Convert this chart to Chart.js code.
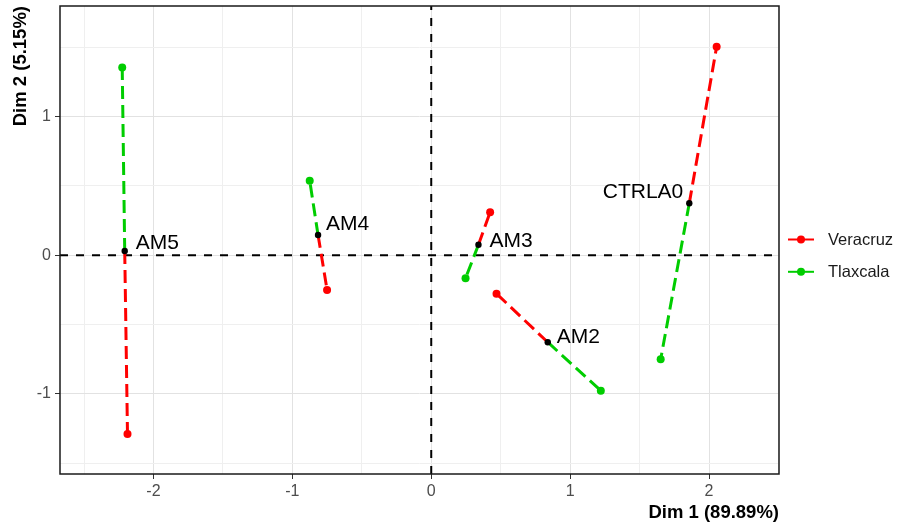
<!DOCTYPE html>
<html>
<head>
<meta charset="utf-8">
<script src="https://cdn.jsdelivr.net/npm/chart.js@4/dist/chart.umd.min.js"></script>
<style>
  html, body { margin: 0; padding: 0; background: #fff; }
  #wrap { width: 900px; height: 527px; }
</style>
</head>
<body>
<div id="wrap"><canvas id="myChart" width="900" height="527"></canvas></div>

<script>
// individuals (mean point) and partial points per group
var individuals = ['AM5', 'AM4', 'AM3', 'AM2', 'CTRLA0'];
var centerX = [-2.207, -0.815, 0.340, 0.839, 1.858];
var centerY = [0.031, 0.146, 0.076, -0.627, 0.375];
var veracruzX = [-2.187, -0.750, 0.424, 0.470, 2.055];
var veracruzY = [-1.288, -0.250, 0.310, -0.277, 1.504];
var tlaxcalaX = [-2.225, -0.875, 0.247, 1.221, 1.652];
var tlaxcalaY = [1.353, 0.538, -0.166, -0.976, -0.750];
var groups = ['Veracruz', 'Tlaxcala'];
var xTicks = [-2.5, -2, -1.5, -1, -0.5, 0, 0.5, 1, 1.5, 2, 2.5];
var yTicks = [-1.5, -1, -0.5, 0, 0.5, 1, 1.5];
var xTitle = 'Dim 1 (89.89%)';
var yTitle = 'Dim 2 (5.15%)';

var RED = '#FF0000';
var GREEN = '#00CD00';
var FONT = "'Liberation Sans', Arial, sans-serif";

// label placement (pixel offsets from the mean point), like ggrepel left them
var labelDx = [11, 8, 11, 9, -6];
var labelDy = [-8, -11, -4, -5, -11];
var labelAlign = ['left', 'left', 'left', 'left', 'right'];

var datasets = [];
datasets.push({
    label: 'mean',
    data: individuals.map(function (n, i) { return {x: centerX[i], y: centerY[i]}; }),
    backgroundColor: '#000',
    borderColor: '#000',
    pointRadius: 3.2,
    pointBorderWidth: 0,
    showLine: false,
    order: 0
});
for (var i = 0; i < individuals.length; i++) {
    datasets.push({
        label: groups[0],
        data: [{x: centerX[i], y: centerY[i]}, {x: veracruzX[i], y: veracruzY[i]}],
        borderColor: RED,
        backgroundColor: RED,
        borderWidth: 3,
        borderDash: [13, 6],
        pointRadius: [0, 4],
        pointBorderWidth: 0,
        showLine: true,
        order: 2
    });
    datasets.push({
        label: groups[1],
        data: [{x: centerX[i], y: centerY[i]}, {x: tlaxcalaX[i], y: tlaxcalaY[i]}],
        borderColor: GREEN,
        backgroundColor: GREEN,
        borderWidth: 3,
        borderDash: [13, 6],
        pointRadius: [0, 4],
        pointBorderWidth: 0,
        showLine: true,
        order: 1
    });
}

function isMajor(v) { return Math.abs(v - Math.round(v)) < 1e-9; }

var decor = {
    id: 'decor',
    beforeDatasetsDraw: function (chart) {
        var ctx = chart.ctx, a = chart.chartArea;
        var x0 = chart.scales.x.getPixelForValue(0);
        var y0 = chart.scales.y.getPixelForValue(0);
        ctx.save();
        ctx.strokeStyle = '#000';
        ctx.lineWidth = 2;
        ctx.setLineDash([8, 8]);
        ctx.beginPath();
        ctx.moveTo(a.left, y0); ctx.lineTo(a.right, y0);
        ctx.moveTo(x0, a.bottom); ctx.lineTo(x0, a.top);
        ctx.stroke();
        ctx.restore();
    },
    afterDraw: function (chart) {
        var ctx = chart.ctx, a = chart.chartArea;
        var sx = chart.scales.x, sy = chart.scales.y;
        ctx.save();
        // panel border
        ctx.strokeStyle = '#1a1a1a';
        ctx.lineWidth = 1.5;
        ctx.strokeRect(a.left, a.top, a.right - a.left, a.bottom - a.top);

        // point labels
        ctx.fillStyle = '#000';
        ctx.font = '21px ' + FONT;
        ctx.textBaseline = 'middle';
        for (var i = 0; i < individuals.length; i++) {
            ctx.textAlign = labelAlign[i];
            ctx.fillText(individuals[i],
                sx.getPixelForValue(centerX[i]) + labelDx[i],
                sy.getPixelForValue(centerY[i]) + labelDy[i]);
        }

        // legend
        var cols = [RED, GREEN];
        var lx = a.right + 9, ly = 239.5;
        ctx.font = '16.5px ' + FONT;
        ctx.textAlign = 'left';
        for (var g = 0; g < groups.length; g++) {
            var yy = ly + g * 32.3;
            ctx.strokeStyle = cols[g];
            ctx.fillStyle = cols[g];
            ctx.lineWidth = 2;
            ctx.beginPath();
            ctx.moveTo(lx, yy); ctx.lineTo(lx + 26, yy);
            ctx.stroke();
            ctx.beginPath();
            ctx.arc(lx + 13, yy, 4, 0, Math.PI * 2);
            ctx.fill();
            ctx.fillStyle = '#1a1a1a';
            ctx.fillText(groups[g], lx + 40, yy + 1);
        }
        ctx.restore();
    }
};

var ctx = document.getElementById('myChart').getContext('2d');
var myChart = new Chart(ctx, {
    type: 'scatter',
    data: { datasets: datasets },
    plugins: [decor],
    options: {
        responsive: false,
        animation: false,
        devicePixelRatio: 1,
        layout: { padding: { top: 6, right: 121, left: 0, bottom: 0 } },
        plugins: {
            legend: { display: false },
            tooltip: { enabled: false }
        },
        scales: {
            x: {
                type: 'linear',
                min: -2.673,
                max: 2.504,
                afterBuildTicks: function (s) { s.ticks = xTicks.map(function (v) { return {value: v}; }); },
                afterFit: function (s) { s.height = 53; s.paddingLeft = 0; s.paddingRight = 0; },
                border: { display: false },
                grid: {
                    color: function (c) { return isMajor(c.tick.value) ? '#E2E2E2' : '#EFEFEF'; },
                    lineWidth: 1,
                    tickLength: 5,
                    tickColor: function (c) { return isMajor(c.tick.value) ? '#333' : 'rgba(0,0,0,0)'; }
                },
                ticks: {
                    autoSkip: false,
                    maxRotation: 0,
                    padding: 3,
                    color: '#4D4D4D',
                    font: { family: FONT, size: 16 },
                    callback: function (v) { return isMajor(v) ? String(v) : ''; }
                },
                title: {
                    display: true,
                    text: xTitle,
                    align: 'end',
                    color: '#000',
                    font: { family: FONT, size: 18.5, weight: 'bold' },
                    padding: { top: 0, bottom: 3 }
                }
            },
            y: {
                type: 'linear',
                min: -1.577,
                max: 1.797,
                afterBuildTicks: function (s) { s.ticks = yTicks.map(function (v) { return {value: v}; }); },
                afterFit: function (s) { s.width = 60; s.paddingTop = 0; s.paddingBottom = 0; },
                border: { display: false },
                grid: {
                    color: function (c) { return isMajor(c.tick.value) ? '#E2E2E2' : '#EFEFEF'; },
                    lineWidth: 1,
                    tickLength: 5,
                    tickColor: function (c) { return isMajor(c.tick.value) ? '#333' : 'rgba(0,0,0,0)'; }
                },
                ticks: {
                    autoSkip: false,
                    padding: 4,
                    color: '#4D4D4D',
                    font: { family: FONT, size: 16 },
                    callback: function (v) { return isMajor(v) ? String(v) : ''; }
                },
                title: {
                    display: true,
                    text: yTitle,
                    align: 'end',
                    color: '#000',
                    font: { family: FONT, size: 18.5, weight: 'bold' },
                    padding: { top: 10, bottom: 0 }
                }
            }
        }
    }
});
</script>
</body>
</html>
